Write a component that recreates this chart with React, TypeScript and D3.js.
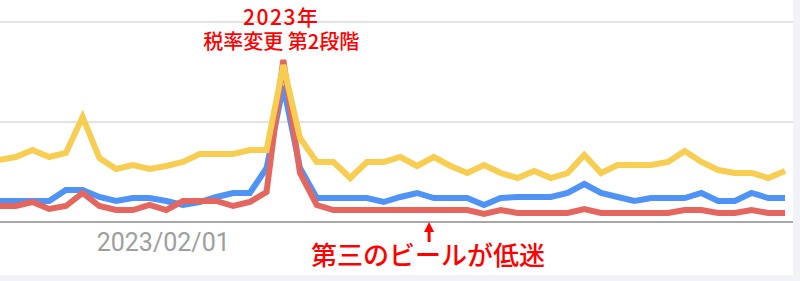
import React from "react";
import * as d3 from "d3";

const months: string[] = [
  "2022-04","2022-05","2022-06","2022-07","2022-08","2022-09","2022-10","2022-11","2022-12",
  "2023-01","2023-02","2023-03","2023-04","2023-05","2023-06","2023-07","2023-08","2023-09",
  "2023-10","2023-11","2023-12","2024-01","2024-02","2024-03","2024-04","2024-05","2024-06",
  "2024-07","2024-08","2024-09","2024-10","2024-11","2024-12","2025-01","2025-02","2025-03",
  "2025-04","2025-05","2025-06","2025-07","2025-08","2025-09","2025-10","2025-11","2025-12",
  "2026-01","2026-02","2026-03",
];

const seriesBlue: number[] = [
  10.5, 10.5, 10.5, 10.5, 16, 16, 12.5, 10.5, 12, 12, 10.5, 8.5, 10, 12.5, 14.5, 14.5, 27, 68,
  27, 12, 12, 12, 12, 10, 12.5, 14.5, 12, 12, 12, 8.5, 12, 12.5, 12.5, 12.5, 14.5, 19,
  14.5, 12.5, 10.5, 12, 12, 12, 14.5, 10.5, 10.5, 14.5, 12, 12,
];

const seriesRed: number[] = [
  8, 8, 10, 6.5, 8, 14.5, 8, 6, 6, 8.5, 6, 10.5, 10.5, 10.5, 8, 10, 15, 81,
  24.5, 8.5, 6, 6, 6, 6, 6, 6, 6, 6, 6, 4, 6, 4.5, 4.5, 4.5, 4.5, 6.5,
  4.5, 4.5, 4.5, 4.5, 4.5, 6, 6, 4.5, 4.5, 6, 4.5, 4.5,
];

const seriesYellow: number[] = [
  31, 32.5, 36, 32.5, 34.5, 52.5, 32, 26.5, 28.5, 26.5, 28, 30, 34, 34, 34, 36, 36, 78.5,
  42, 30, 30, 22, 30, 30, 32.5, 28, 32.5, 28, 24.5, 28.5, 24.5, 22, 25.5, 22, 24.5, 33.5,
  24.5, 28.5, 28.5, 28.5, 30, 35.5, 30, 26, 24.5, 24.5, 22, 25.5,
];

const gridValues: number[] = [50, 100];
const tickMonth = "2023-02";
const tickLabel = "2023/02/01";
const peakMonth = "2023-09";
const lowMonth = "2024-05";
const titleLine1 = "2023年";
const titleLine2 = "税率変更 第2段階";
const lowLabel = "第三のビールが低迷";

const W = 800;
const H = 281;
const plotRight = 793;

export default function App() {
  const x = d3.scalePoint<string>().domain(months).range([-1, 785]);
  const y = d3.scaleLinear().domain([0, 100]).range([222, 22]);

  const line = d3
    .line<number>()
    .x((_, i) => x(months[i]) as number)
    .y((d) => y(d));

  const series = [
    { name: "blue", values: seriesBlue, color: "#4f93f6" },
    { name: "red", values: seriesRed, color: "#e4675f" },
    { name: "yellow", values: seriesYellow, color: "#f7cd52" },
  ];

  const tickX = (x(tickMonth) as number) - 3;
  const peakX = (x(peakMonth) as number) - 2;
  const lowX = (x(lowMonth) as number) + 12;

  return (
    <div style={{ position: "fixed", left: 0, top: 0, width: W, height: H }}>
      <svg width={W} height={H} style={{ display: "block" }}>
        <rect x={0} y={0} width={W} height={H} fill="#f1f3f8" />
        <rect x={0} y={0} width={plotRight} height={275} fill="#ffffff" />
        {gridValues.map((v) => (
          <line
            key={v}
            x1={0}
            x2={plotRight}
            y1={y(v)}
            y2={y(v)}
            stroke="#e3e3e3"
            strokeWidth={2}
          />
        ))}
        <line x1={0} x2={plotRight} y1={y(0)} y2={y(0)} stroke="#a8a8a8" strokeWidth={2} />
        {series.map((s) => (
          <path
            key={s.name}
            d={line(s.values) || ""}
            fill="none"
            stroke={s.color}
            strokeWidth={6}
            strokeLinejoin="miter"
            strokeLinecap="butt"
          />
        ))}
        <text
          x={tickX}
          y={251}
          textAnchor="middle"
          fontFamily="Roboto, sans-serif"
          fontSize={25}
          fill="#9e9e9e"
        >
          {tickLabel}
        </text>
        <text
          x={peakX}
          y={25}
          textAnchor="middle"
          fontFamily="'Noto Sans CJK JP', sans-serif"
          fontSize={21}
          fontWeight={500}
          letterSpacing={1.5}
          fill="#ff0000"
        >
          {titleLine1}
        </text>
        <text
          x={peakX}
          y={49}
          textAnchor="middle"
          fontFamily="'Noto Sans CJK JP', sans-serif"
          fontSize={20}
          fontWeight={500}
          fill="#ff0000"
        >
          {titleLine2}
        </text>
        <line x1={lowX} x2={lowX} y1={230} y2={242} stroke="#ff0000" strokeWidth={3} />
        <path
          d={`M${lowX - 5},232 L${lowX},222 L${lowX + 5},232 Z`}
          fill="#ff0000"
        />
        <text
          x={428}
          y={265}
          textAnchor="middle"
          fontFamily="'Noto Sans CJK JP', sans-serif"
          fontSize={26}
          fontWeight={500}
          fill="#ff0000"
        >
          {lowLabel}
        </text>
      </svg>
    </div>
  );
}
